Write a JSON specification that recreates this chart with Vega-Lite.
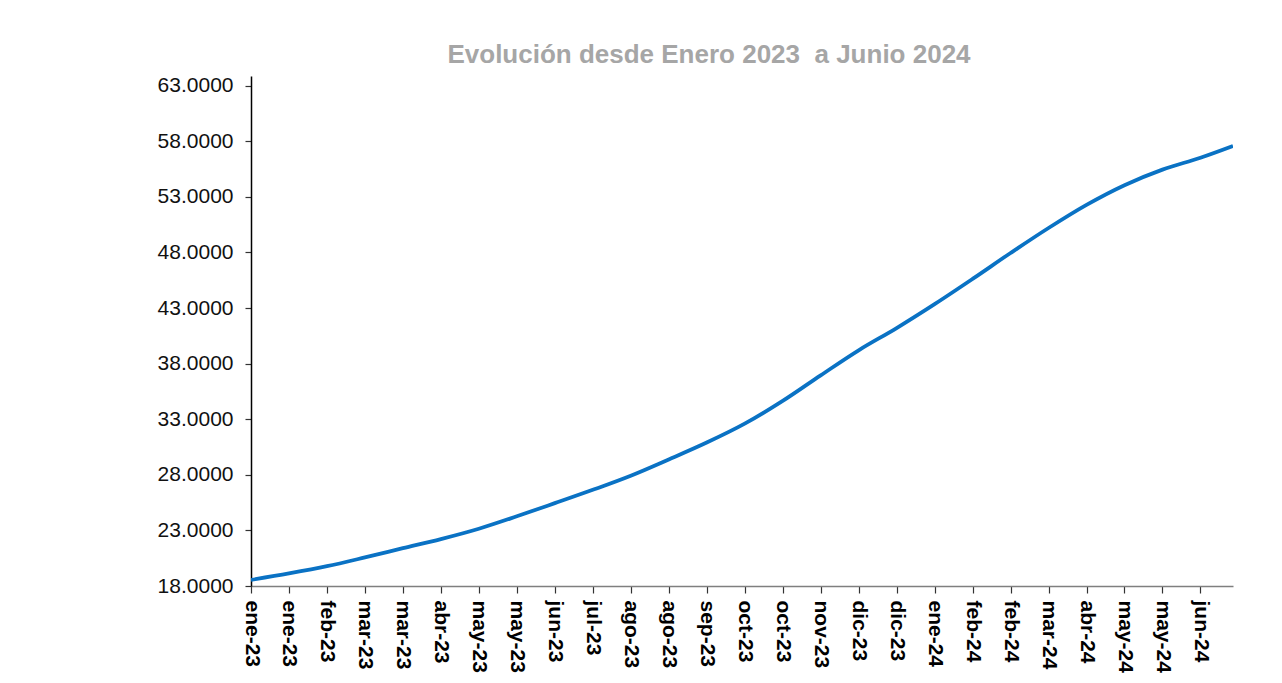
{
  "$schema": "https://vega.github.io/schema/vega-lite/v6.json",
  "width": 982,
  "height": 510,
  "autosize": {"type": "none"},
  "padding": {"left": 251, "top": 76, "right": 49, "bottom": 97},
  "background": "white",
  "title": {
    "text": "Evolución desde Enero 2023\u00a0 a Junio 2024",
    "font": "Liberation Sans",
    "fontSize": 26,
    "fontWeight": "bold",
    "color": "#a6a6a6",
    "anchor": "middle",
    "frame": "group",
    "dx": -33,
    "offset": -14,
    "baseline": "alphabetic"
  },
  "data": {
    "values": [
      {"fecha": "2023-01-04", "valor": 18.55},
      {"fecha": "2023-01-25", "valor": 19.13},
      {"fecha": "2023-02-15", "valor": 19.78},
      {"fecha": "2023-03-08", "valor": 20.57},
      {"fecha": "2023-03-29", "valor": 21.4},
      {"fecha": "2023-04-19", "valor": 22.22},
      {"fecha": "2023-05-10", "valor": 23.15},
      {"fecha": "2023-05-31", "valor": 24.27},
      {"fecha": "2023-06-21", "valor": 25.45},
      {"fecha": "2023-07-12", "valor": 26.65},
      {"fecha": "2023-08-02", "valor": 27.92},
      {"fecha": "2023-08-23", "valor": 29.38},
      {"fecha": "2023-09-13", "valor": 30.9},
      {"fecha": "2023-10-04", "valor": 32.6},
      {"fecha": "2023-10-25", "valor": 34.65},
      {"fecha": "2023-11-15", "valor": 36.95},
      {"fecha": "2023-12-06", "valor": 39.2},
      {"fecha": "2023-12-27", "valor": 41.2},
      {"fecha": "2024-01-17", "valor": 43.35},
      {"fecha": "2024-02-07", "valor": 45.62},
      {"fecha": "2024-02-28", "valor": 47.95},
      {"fecha": "2024-03-20", "valor": 50.2},
      {"fecha": "2024-04-10", "valor": 52.28},
      {"fecha": "2024-05-01", "valor": 54.05},
      {"fecha": "2024-05-22", "valor": 55.45},
      {"fecha": "2024-06-12", "valor": 56.52},
      {"fecha": "2024-06-30", "valor": 57.58}
    ]
  },
  "mark": {"type": "line", "color": "#0A72C4", "strokeWidth": 3.8, "interpolate": "monotone", "clip": true},
  "encoding": {
    "x": {
      "field": "fecha",
      "type": "temporal",
      "scale": {
        "type": "utc",
        "domain": [
          {"year": 2023, "month": 1, "date": 4, "utc": true},
          {"year": 2024, "month": 6, "date": 30, "utc": true}
        ]
      },
      "axis": {
        "title": null,
        "values": [
          {"year": 2023, "month": 1, "date": 4, "utc": true},
          {"year": 2023, "month": 1, "date": 25, "utc": true},
          {"year": 2023, "month": 2, "date": 15, "utc": true},
          {"year": 2023, "month": 3, "date": 8, "utc": true},
          {"year": 2023, "month": 3, "date": 29, "utc": true},
          {"year": 2023, "month": 4, "date": 19, "utc": true},
          {"year": 2023, "month": 5, "date": 10, "utc": true},
          {"year": 2023, "month": 5, "date": 31, "utc": true},
          {"year": 2023, "month": 6, "date": 21, "utc": true},
          {"year": 2023, "month": 7, "date": 12, "utc": true},
          {"year": 2023, "month": 8, "date": 2, "utc": true},
          {"year": 2023, "month": 8, "date": 23, "utc": true},
          {"year": 2023, "month": 9, "date": 13, "utc": true},
          {"year": 2023, "month": 10, "date": 4, "utc": true},
          {"year": 2023, "month": 10, "date": 25, "utc": true},
          {"year": 2023, "month": 11, "date": 15, "utc": true},
          {"year": 2023, "month": 12, "date": 6, "utc": true},
          {"year": 2023, "month": 12, "date": 27, "utc": true},
          {"year": 2024, "month": 1, "date": 17, "utc": true},
          {"year": 2024, "month": 2, "date": 7, "utc": true},
          {"year": 2024, "month": 2, "date": 28, "utc": true},
          {"year": 2024, "month": 3, "date": 20, "utc": true},
          {"year": 2024, "month": 4, "date": 10, "utc": true},
          {"year": 2024, "month": 5, "date": 1, "utc": true},
          {"year": 2024, "month": 5, "date": 22, "utc": true},
          {"year": 2024, "month": 6, "date": 12, "utc": true}
        ],
        "labelExpr": "['ene','feb','mar','abr','may','jun','jul','ago','sep','oct','nov','dic'][utcmonth(datum.value)] + '-' + utcFormat(datum.value, '%y')",
        "labelAngle": 90,
        "labelAlign": "left",
        "labelBaseline": "middle",
        "labelFont": "Liberation Sans",
        "labelFontSize": 21,
        "labelFontWeight": "bold",
        "labelColor": "#000000",
        "labelPadding": 7,
        "labelOverlap": false,
        "labelFlush": false,
        "labelBound": false,
        "grid": false,
        "domainColor": "#7f7f7f",
        "domainWidth": 1.5,
        "tickColor": "#333333",
        "tickSize": 7,
        "tickWidth": 1.2
      }
    },
    "y": {
      "field": "valor",
      "type": "quantitative",
      "scale": {"domain": [18, 63.87], "nice": false, "zero": false},
      "axis": {
        "title": null,
        "values": [18, 23, 28, 33, 38, 43, 48, 53, 58, 63],
        "format": ".4f",
        "labelFont": "Liberation Sans",
        "labelFontSize": 21,
        "labelColor": "#111111",
        "labelPadding": 12,
        "labelFlush": false,
        "labelBound": false,
        "grid": false,
        "domainColor": "#000000",
        "domainWidth": 1.5,
        "tickColor": "#333333",
        "tickSize": 6,
        "tickWidth": 1.2
      }
    }
  },
  "config": {"view": {"stroke": null}}
}
